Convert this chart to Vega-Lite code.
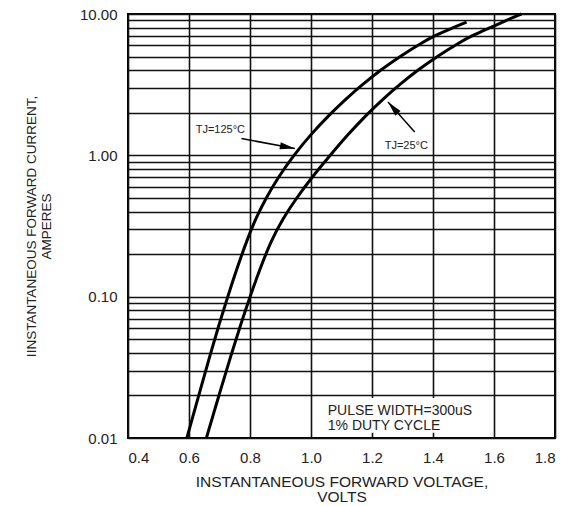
{
  "$schema": "https://vega.github.io/schema/vega-lite/v6.json",
  "width": 427,
  "height": 424,
  "autosize": {"type": "none"},
  "padding": {"left": 128, "top": 14, "right": 13, "bottom": 68},
  "background": "white",
  "config": {
    "view": {"stroke": "black", "strokeWidth": 2},
    "font": "Liberation Sans",
    "axis": {"labelFont": "Liberation Sans", "titleFont": "Liberation Sans"}
  },
  "datasets": {
    "curves": [
      {"series": "125", "v": 0.593, "i": 0.01},
      {"series": "125", "v": 0.632, "i": 0.02},
      {"series": "125", "v": 0.671, "i": 0.04},
      {"series": "125", "v": 0.698, "i": 0.0631},
      {"series": "125", "v": 0.727, "i": 0.1},
      {"series": "125", "v": 0.757, "i": 0.158},
      {"series": "125", "v": 0.79, "i": 0.251},
      {"series": "125", "v": 0.818, "i": 0.355},
      {"series": "125", "v": 0.853, "i": 0.501},
      {"series": "125", "v": 0.894, "i": 0.708},
      {"series": "125", "v": 0.943, "i": 1.0},
      {"series": "125", "v": 1.0, "i": 1.413},
      {"series": "125", "v": 1.066, "i": 1.995},
      {"series": "125", "v": 1.115, "i": 2.512},
      {"series": "125", "v": 1.168, "i": 3.162},
      {"series": "125", "v": 1.226, "i": 3.981},
      {"series": "125", "v": 1.291, "i": 5.012},
      {"series": "125", "v": 1.366, "i": 6.31},
      {"series": "125", "v": 1.409, "i": 7.079},
      {"series": "125", "v": 1.462, "i": 7.943},
      {"series": "125", "v": 1.51, "i": 8.75},
      {"series": "25", "v": 0.657, "i": 0.01},
      {"series": "25", "v": 0.698, "i": 0.02},
      {"series": "25", "v": 0.74, "i": 0.04},
      {"series": "25", "v": 0.769, "i": 0.0631},
      {"series": "25", "v": 0.8, "i": 0.1},
      {"series": "25", "v": 0.833, "i": 0.158},
      {"series": "25", "v": 0.87, "i": 0.251},
      {"series": "25", "v": 0.907, "i": 0.355},
      {"series": "25", "v": 0.953, "i": 0.501},
      {"series": "25", "v": 1.005, "i": 0.708},
      {"series": "25", "v": 1.063, "i": 1.0},
      {"series": "25", "v": 1.122, "i": 1.413},
      {"series": "25", "v": 1.188, "i": 1.995},
      {"series": "25", "v": 1.237, "i": 2.512},
      {"series": "25", "v": 1.29, "i": 3.162},
      {"series": "25", "v": 1.348, "i": 3.981},
      {"series": "25", "v": 1.413, "i": 5.012},
      {"series": "25", "v": 1.488, "i": 6.31},
      {"series": "25", "v": 1.531, "i": 7.079},
      {"series": "25", "v": 1.584, "i": 7.943},
      {"series": "25", "v": 1.635, "i": 8.913},
      {"series": "25", "v": 1.69, "i": 10.0}
    ],
    "box": [{"v": 1.045, "v2": 1.59, "i": 0.0109, "i2": 0.0192}],
    "arrows": [
      {"v": 0.772, "i": 1.315, "v2": 0.947, "i2": 1.117, "angle": 100.6},
      {"v": 1.34, "i": 1.462, "v2": 1.2525, "i2": 2.38, "angle": 318.3}
    ],
    "labels": [
      {"v": 0.622, "i": 1.5, "label": "TJ=125°C"},
      {"v": 1.2416, "i": 1.16, "label": "TJ=25°C"}
    ],
    "notes": [
      {"v": 1.055, "i": 0.01542, "label": "PULSE WIDTH=300uS"},
      {"v": 1.055, "i": 0.01216, "label": "1% DUTY CYCLE"}
    ]
  },
  "encoding": {
    "x": {
      "field": "v",
      "type": "quantitative",
      "scale": {"domain": [0.4, 1.8], "nice": false, "zero": false},
      "axis": {
        "values": [0.4, 0.6, 0.8, 1.0, 1.2, 1.4, 1.6, 1.8],
        "format": ".1f",
        "grid": true,
        "gridColor": "#111111",
        "gridWidth": 1.6,
        "gridOpacity": 1,
        "domain": false,
        "ticks": false,
        "labelPadding": 12,
        "labelFontSize": 15,
        "labelColor": "#222222",
        "labelOverlap": false,
        "title": ["INSTANTANEOUS FORWARD VOLTAGE,", "VOLTS"],
        "titleFontSize": 15.5,
        "titleFontWeight": "normal",
        "titleColor": "#222222",
        "titleLineHeight": 15.5,
        "titlePadding": 9
      }
    },
    "y": {
      "field": "i",
      "type": "quantitative",
      "scale": {"type": "log", "domain": [0.01, 10], "nice": false},
      "axis": {
        "values": [0.01, 0.02, 0.03, 0.04, 0.05, 0.06, 0.07, 0.08, 0.09, 0.1, 0.2, 0.3, 0.4, 0.5, 0.6, 0.7, 0.8, 0.9, 1, 2, 3, 4, 5, 6, 7, 8, 9, 10],
        "labelExpr": "abs(log(datum.value)/LN10 - round(log(datum.value)/LN10)) < 0.001 ? format(datum.value, '.2f') : ''",
        "grid": true,
        "gridColor": "#111111",
        "gridWidth": 1.6,
        "gridOpacity": 1,
        "domain": false,
        "ticks": false,
        "labelPadding": 11,
        "labelFontSize": 15,
        "labelColor": "#222222",
        "labelOverlap": false,
        "title": ["IINSTANTANEOUS FORWARD CURRENT,", "AMPERES"],
        "titleFontSize": 13.5,
        "titleFontWeight": "normal",
        "titleColor": "#222222",
        "titleLineHeight": 15,
        "titlePadding": 26
      }
    }
  },
  "layer": [
    {
      "data": {"name": "box"},
      "mark": {"type": "rect", "fill": "white", "stroke": null},
      "encoding": {"x2": {"field": "v2"}, "y2": {"field": "i2"}}
    },
    {
      "data": {"name": "curves"},
      "mark": {"type": "line", "interpolate": "basis", "color": "black", "strokeWidth": 3},
      "encoding": {"detail": {"field": "series"}}
    },
    {
      "data": {"name": "arrows"},
      "mark": {"type": "rule", "color": "black", "strokeWidth": 1.5},
      "encoding": {"x2": {"field": "v2"}, "y2": {"field": "i2"}}
    },
    {
      "data": {"name": "arrows"},
      "mark": {"type": "point", "shape": "M0,0L0.35,1.5L-0.35,1.5Z", "filled": true, "color": "black", "size": 400, "opacity": 1},
      "encoding": {
        "x": {"field": "v2", "type": "quantitative"},
        "y": {"field": "i2", "type": "quantitative"},
        "angle": {"field": "angle", "type": "quantitative", "scale": null}
      }
    },
    {
      "data": {"name": "labels"},
      "mark": {"type": "text", "align": "left", "baseline": "middle", "fontSize": 11, "color": "#222222"},
      "encoding": {"text": {"field": "label"}}
    },
    {
      "data": {"name": "notes"},
      "mark": {"type": "text", "align": "left", "baseline": "middle", "fontSize": 14, "color": "#222222"},
      "encoding": {"text": {"field": "label"}}
    }
  ]
}
